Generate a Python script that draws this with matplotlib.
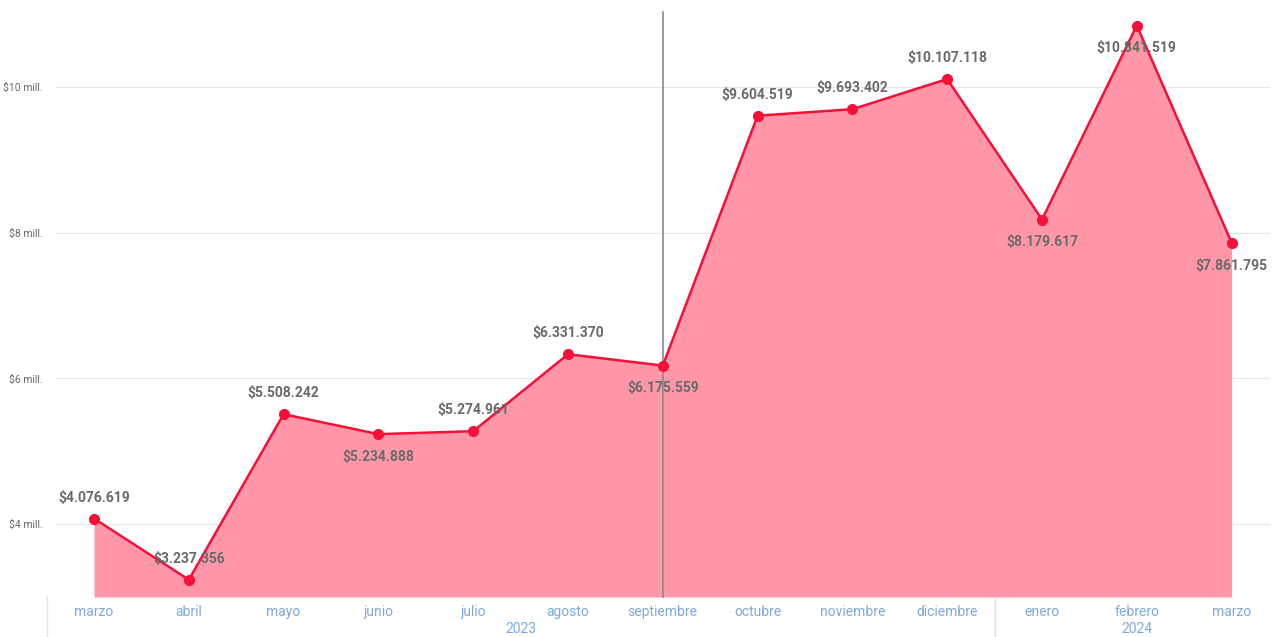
import numpy as np
import matplotlib.pyplot as plt

plt.rcParams.update({'font.family': ['Roboto', 'DejaVu Sans']})

months = ['marzo', 'abril', 'mayo', 'junio', 'julio', 'agosto', 'septiembre',
          'octubre', 'noviembre', 'diciembre', 'enero', 'febrero', 'marzo']
years = ['2023', '2024']
year_groups = [(0, 9), (10, 12)]
values = [4076619, 3237356, 5508242, 5234888, 5274961, 6331370, 6175559,
          9604519, 9693402, 10107118, 8179617, 10841519, 7861795]
label_above = [True, True, True, False, True, True, False,
               True, True, True, False, False, False]
yticks = [4e6, 6e6, 8e6, 10e6]
ytick_labels = ['$4 mill.', '$6 mill.', '$8 mill.', '$10 mill.']
marker_idx = 6  # septiembre

line_col = '#F5103A'
fill_col = '#FF97A8'
lab_col = '#6A6A6A'
month_col = '#7FAADB'

x = np.arange(len(values))

fig = plt.figure(figsize=(12.74, 6.37), dpi=100)
ax = fig.add_axes([46.6 / 1274, 1 - 597 / 637, 12.9 * 94.8 / 1274, (597 - 14) / 637])
ax.set_xlim(-0.5, 12.4)
ax.set_ylim(3e6, 11e6)

for t in yticks:
    ax.hlines(t, -0.4, 12.4, color='#E6E6E6', lw=0.8, zorder=0)

ax.fill_between(x, values, 3e6, color=fill_col, lw=0, zorder=1)
ax.plot(x, values, color=line_col, lw=1.8, zorder=3)
ax.plot(x, values, 'o', color=line_col, ms=7, zorder=4)

ax.axvline(x[marker_idx], ymin=0, ymax=1.003, color='#8A8A8A', lw=1.2, zorder=2, clip_on=False)

for xi, v, up in zip(x, values, label_above):
    s = r'\$' + f'{v:,}'.replace(',', '.')
    off = 15 if up else -16.5
    ax.annotate(s, (xi, v), xytext=(0, off), textcoords='offset points',
                ha='center', va='center', fontsize=10, fontweight='bold',
                color=lab_col, zorder=6)

ax.set_yticks(yticks)
ax.set_yticklabels(ytick_labels, fontsize=7.5, color='#666666')
ax.set_xticks(x)
ax.set_xticklabels(months, fontsize=10, color=month_col)
ax.tick_params(length=0)
ax.tick_params(axis='x', pad=6)
ax.tick_params(axis='y', pad=3)
for sp in ax.spines.values():
    sp.set_visible(False)

# year grouping
for yr, (a, b) in zip(years, year_groups):
    ax.text((a + b) / 2, -0.055, yr, transform=ax.get_xaxis_transform(),
            ha='center', va='center', fontsize=10, color=month_col)
for sep in [-0.5, 9.5]:
    ax.plot([sep, sep], [0, -0.07], transform=ax.get_xaxis_transform(),
            color='#E3E3E3', lw=1, clip_on=False)

fig.savefig('out.png', dpi=100)
